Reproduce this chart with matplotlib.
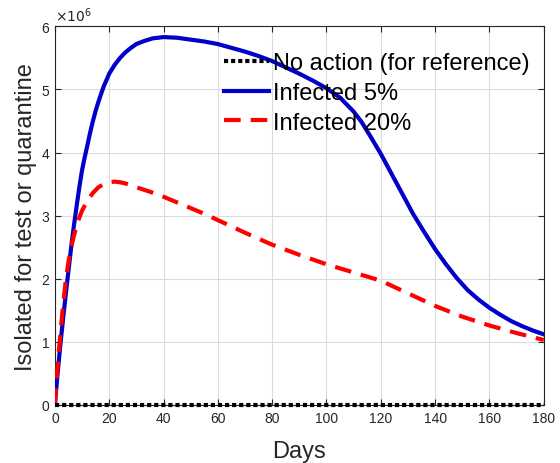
import matplotlib
matplotlib.use('Agg')
import matplotlib.pyplot as plt

# values in millions
dias_azul = [0, 1, 2, 3, 4, 5, 6, 7, 8, 9, 10, 11, 12, 13, 14, 15, 16, 17, 18, 19, 20,
             22, 24, 26, 28, 30, 33, 36, 40, 45, 50, 55, 60, 65, 70, 75, 80, 85, 90, 95,
             100, 105, 110, 113, 116, 120, 124, 128, 132, 136, 140, 144, 148, 152, 156,
             160, 164, 168, 172, 176, 180]
infectado5 = [0, 0.5, 0.95, 1.36, 1.75, 2.13, 2.5, 2.84, 3.15, 3.45, 3.72, 3.93, 4.12,
              4.32, 4.5, 4.66, 4.8, 4.93, 5.05, 5.15, 5.25, 5.39, 5.5, 5.59, 5.66, 5.72,
              5.77, 5.81, 5.83, 5.82, 5.79, 5.76, 5.72, 5.66, 5.6, 5.53, 5.45, 5.35, 5.25,
              5.14, 5.02, 4.87, 4.65, 4.48, 4.27, 3.98, 3.66, 3.34, 3.02, 2.74, 2.47,
              2.23, 2.01, 1.82, 1.67, 1.54, 1.43, 1.33, 1.25, 1.18, 1.12]

dias_verm = [0, 1, 2, 3, 4, 5, 6, 7, 8, 9, 10, 12, 14, 16, 18, 20, 22, 24, 26, 30, 35,
             40, 45, 50, 55, 60, 70, 80, 90, 100, 110, 120, 130, 140, 150, 160, 170, 180]
infectado20 = [0, 0.62, 1.12, 1.58, 1.97, 2.27, 2.5, 2.68, 2.84, 2.97, 3.08, 3.24, 3.36,
               3.45, 3.5, 3.53, 3.54, 3.53, 3.51, 3.45, 3.38, 3.3, 3.21, 3.12, 3.03, 2.93,
               2.73, 2.54, 2.38, 2.23, 2.1, 1.97, 1.77, 1.57, 1.4, 1.26, 1.14, 1.03]

dias_ref = [0, 180]
sem_acao = [0, 0]

plt.rcParams['font.family'] = ['Liberation Sans', 'DejaVu Sans']

fig = plt.figure(figsize=(5.6, 4.64), dpi=100)
ax = fig.add_axes([0.098, 0.125, 0.873, 0.816])

ax.plot(dias_ref, sem_acao, color='black', lw=3, dashes=(1, 0.7),
        dash_capstyle='butt', label='No action (for reference)', zorder=4,
        clip_on=False)
ax.plot(dias_azul, infectado5, color='#0000c8', lw=3, label='Infected 5%', zorder=3)
ax.plot(dias_verm, infectado20, color='#ff0000', lw=3, dashes=(4, 2.4),
        label='Infected 20%', zorder=3)

ax.set_xlim(0, 180)
ax.set_ylim(0, 6)
ax.set_xticks(range(0, 181, 20))
ax.set_yticks(range(0, 7))
ax.grid(True, color='#dcdcdc', lw=0.8)
ax.set_axisbelow(True)
ax.tick_params(direction='in', top=True, right=True, labelsize=10,
               colors='#262626', length=4, pad=4)
for s in ax.spines.values():
    s.set_color('#262626')
    s.set_linewidth(0.8)

ax.set_xlabel('Days', fontsize=17, color='#262626', labelpad=11)
ax.set_ylabel('Isolated for test or quarantine', fontsize=17, color='#262626', labelpad=3)
ax.text(0.0, 1.005, r'$\times10^{6}$', transform=ax.transAxes, fontsize=10,
        color='#262626', va='bottom', ha='left')

ax.legend(loc='upper right', frameon=False, fontsize=17, handlelength=1.9,
          handletextpad=0.15, labelspacing=0.32, borderaxespad=0.0,
          bbox_to_anchor=(0.99, 0.956))

fig.savefig('out.png', dpi=100)
